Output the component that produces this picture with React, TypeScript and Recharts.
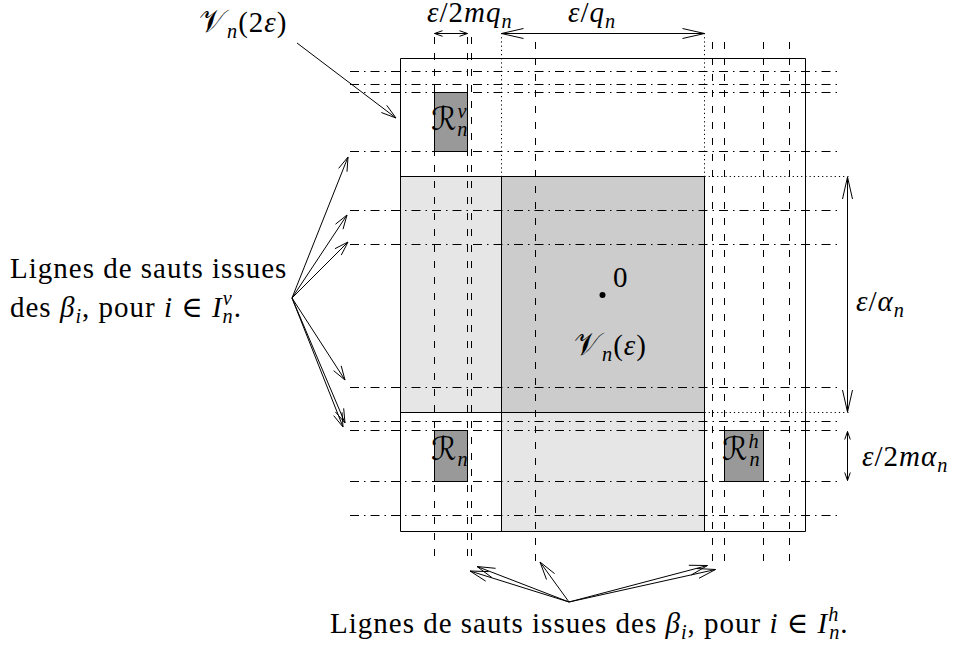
import { ScatterChart, Scatter, XAxis, YAxis, ReferenceArea, ReferenceLine } from "recharts";

const W = 965;
const H = 647;
const SERIF = "'Liberation Serif', 'DejaVu Serif', serif";
const SCRIPT = "'DejaVu Serif', 'DejaVu Sans', serif";

// jump lines coming from the beta_i, i in I_n^v (dash-dot, horizontal)
const hJumpY = [71.5, 84.5, 92.5, 151.5, 210.5, 244.5, 387.5, 421.5, 430.5, 481.5, 515.5];
const hJumpX = [350, 840];

// jump lines coming from the beta_i, i in I_n^h (dashed, vertical)
const vJumpX = [434.5, 467.5, 471.5, 535.5, 712.5, 724.5, 763.5, 789.5];
const vJumpTop = [37, 37, 37, 42, 42, 42, 42, 42];
const vJumpBottom = 564;

// dotted guides
const guides = [
  { x1: 501.5, y1: 33, x2: 501.5, y2: 176.5 },
  { x1: 704.5, y1: 33, x2: 704.5, y2: 176.5 },
  { x1: 704.5, y1: 176.5, x2: 850, y2: 176.5 },
  { x1: 704.5, y1: 412.5, x2: 850, y2: 412.5 },
];

// regions: V_n(2eps) frame, V_n(eps) pieces, R rectangles
const frame = { x1: 400.5, x2: 805.5, y1: 58.5, y2: 531.5 };
const regions = [
  { kind: "light", x1: 400.5, x2: 501.5, y1: 176.5, y2: 412.5 },
  { kind: "mid", x1: 501.5, x2: 704.5, y1: 176.5, y2: 412.5 },
  { kind: "light", x1: 501.5, x2: 704.5, y1: 412.5, y2: 531.5 },
  { kind: "dark", x1: 434.5, x2: 467.5, y1: 92.5, y2: 151.5 },
  { kind: "dark", x1: 434.5, x2: 467.5, y1: 430.5, y2: 481.5 },
  { kind: "dark", x1: 724.5, x2: 763.5, y1: 430.5, y2: 481.5 },
];
const shade: Record<string, string> = { light: "#e6e6e6", mid: "#cccccc", dark: "#999999" };

// dimension arrows (heads on both ends)
const dimArrows = [
  { a: [434.5, 33.5], b: [467.5, 33.5], head: "small" },
  { a: [501.5, 33.5], b: [704.5, 33.5], head: "big" },
  { a: [847.5, 177], b: [847.5, 412], head: "big" },
  { a: [847.5, 431.5], b: [847.5, 480.5], head: "small" },
];

// pointer arrows (head at the tip)
const leftFrom = [292, 298];
const leftTips = [[348, 157], [347, 215], [348, 242], [345, 380], [345, 423], [343, 427]];
const bottomFrom = [569, 602];
const bottomTips = [[477, 566.5], [470, 571], [540, 562], [707.5, 565.5], [715.5, 569.5]];
const vArrow = { a: [297, 43], b: [396, 118] };

const headSize: Record<string, [number, number]> = {
  small: [8, 2.8],
  big: [22, 5],
  left: [14, 4.5],
  bottom: [18, 5],
  v: [15, 4.5],
};

const origin = [{ x: 602.5, y: 295 }];

type Piece = [string, string];
const labelText: Record<string, Piece[]> = {
  v2eps: [["𝒱", "c"], ["n", "sub"], ["(2", "r"], ["ε", "i"], [")", "r"]],
  eps2mq: [["ε", "i"], ["/2", "r"], ["mq", "i"], ["n", "sub"]],
  epsq: [["ε", "i"], ["/", "r"], ["q", "i"], ["n", "sub"]],
  left1: [["Lignes de sauts issues", "r"]],
  left2: [["des ", "r"], ["β", "i"], ["i", "sub"], [", pour ", "r"], ["i", "i"], [" ∈ ", "r"], ["I", "i"], ["v", "sup"], ["n", "stack"], [".", "r"]],
  zero: [["0", "r"]],
  veps: [["𝒱", "c"], ["n", "sub"], ["(", "r"], ["ε", "i"], [")", "r"]],
  epsalpha: [["ε", "i"], ["/", "r"], ["α", "i"], ["n", "sub"]],
  eps2malpha: [["ε", "i"], ["/2", "r"], ["mα", "i"], ["n", "sub"]],
  Rv: [["ℛ", "c"], ["v", "sup"], ["n", "stack"]],
  R: [["ℛ", "c"], ["n", "sub"]],
  Rh: [["ℛ", "c"], ["h", "sup"], ["n", "stack"]],
  bottom: [["Lignes de sauts issues des ", "r"], ["β", "i"], ["i", "sub"], [", pour ", "r"], ["i", "i"], [" ∈ ", "r"], ["I", "i"], ["h", "sup"], ["n", "stack"], [".", "r"]],
};

const labelPoints = [
  { id: "v2eps", x: 199, y: 32 },
  { id: "eps2mq", x: 427, y: 22 },
  { id: "epsq", x: 568, y: 22 },
  { id: "left1", x: 10, y: 278 },
  { id: "left2", x: 10, y: 317 },
  { id: "zero", x: 613, y: 287 },
  { id: "veps", x: 574, y: 355 },
  { id: "epsalpha", x: 856, y: 311 },
  { id: "eps2malpha", x: 862, y: 466 },
  { id: "Rv", x: 431, y: 130 },
  { id: "R", x: 431, y: 460 },
  { id: "Rh", x: 722, y: 460 },
  { id: "bottom", x: 330, y: 633 },
];

type Pt = number[];
type Seg = [Pt, Pt];

function barbs(tip: Pt, from: Pt, size: [number, number]): Seg[] {
  const [len, half] = size;
  const dx = tip[0] - from[0];
  const dy = tip[1] - from[1];
  const d = Math.hypot(dx, dy);
  const ux = dx / d;
  const uy = dy / d;
  const bx = tip[0] - ux * len;
  const by = tip[1] - uy * len;
  return [
    [tip, [bx - uy * half, by + ux * half]],
    [tip, [bx + uy * half, by - ux * half]],
  ];
}

function arrowSegments(): Seg[] {
  const segs: Seg[] = [];
  for (const d of dimArrows) {
    segs.push([d.a, d.b]);
    segs.push(...barbs(d.a, d.b, headSize[d.head]));
    segs.push(...barbs(d.b, d.a, headSize[d.head]));
  }
  for (const t of leftTips) {
    segs.push([leftFrom, t]);
    segs.push(...barbs(t, leftFrom, headSize.left));
  }
  for (const t of bottomTips) {
    segs.push([bottomFrom, t]);
    segs.push(...barbs(t, bottomFrom, headSize.bottom));
  }
  segs.push([vArrow.a, vArrow.b]);
  segs.push(...barbs(vArrow.b, vArrow.a, headSize.v));
  return segs;
}

function MathText({ x, y, pieces, size }: { x: number; y: number; pieces: Piece[]; size: number }) {
  let shift = 0;
  const small = size * 0.7;
  return (
    <text x={x} y={y} fontFamily={SERIF} fontSize={size} fill="#000" letterSpacing={1}>
      {pieces.map(([t, k], i) => {
        let target = 0;
        let fs = size;
        let style = "normal";
        let dx = 0;
        let fam: string | undefined;
        if (k === "i") style = "italic";
        if (k === "c") { fam = SCRIPT; fs = size * 1.1; }
        if (k === "sub") { target = size * 0.22; fs = small; style = "italic"; }
        if (k === "sup") { target = -size * 0.4; fs = small; style = "italic"; }
        if (k === "stack") { target = size * 0.22; fs = small; style = "italic"; dx = -small * 0.5; }
        const dy = target - shift;
        shift = target;
        return (
          <tspan key={i} dx={dx} dy={dy} fontSize={fs} fontStyle={style} fontFamily={fam}>
            {t}
          </tspan>
        );
      })}
    </text>
  );
}

export default function App() {
  const arrows = arrowSegments();
  return (
    <div style={{ position: "absolute", left: 0, top: 0, background: "#fff" }}>
      <ScatterChart width={W} height={H} margin={{ top: 0, right: 0, bottom: 0, left: 0 }}>
        <XAxis type="number" dataKey="x" domain={[0, W]} hide allowDataOverflow />
        <YAxis type="number" dataKey="y" domain={[0, H]} reversed hide allowDataOverflow />

        {regions.map((r, i) => (
          <ReferenceArea key={`r${i}`} x1={r.x1} x2={r.x2} y1={r.y1} y2={r.y2}
            fill={shade[r.kind]} fillOpacity={1} stroke="#000" strokeWidth={1} ifOverflow="visible" />
        ))}
        <ReferenceArea x1={frame.x1} x2={frame.x2} y1={frame.y1} y2={frame.y2}
          fill="none" stroke="#000" strokeWidth={1} ifOverflow="visible" />

        {hJumpY.map((y, i) => (
          <ReferenceLine key={`h${i}`} segment={[{ x: hJumpX[0], y }, { x: hJumpX[1], y }]}
            stroke="#000" strokeWidth={1} strokeDasharray="9 5 1.5 5" ifOverflow="visible" />
        ))}
        {vJumpX.map((x, i) => (
          <ReferenceLine key={`v${i}`} segment={[{ x, y: vJumpTop[i] }, { x, y: vJumpBottom }]}
            stroke="#000" strokeWidth={1} strokeDasharray="7 9" ifOverflow="visible" />
        ))}
        {guides.map((g, i) => (
          <ReferenceLine key={`g${i}`} segment={[{ x: g.x1, y: g.y1 }, { x: g.x2, y: g.y2 }]}
            stroke="#000" strokeWidth={1} strokeDasharray="1.2 3" ifOverflow="visible" />
        ))}
        {arrows.map((s, i) => (
          <ReferenceLine key={`a${i}`} segment={[{ x: s[0][0], y: s[0][1] }, { x: s[1][0], y: s[1][1] }]}
            stroke="#000" strokeWidth={1} ifOverflow="visible" />
        ))}

        <Scatter data={origin} isAnimationActive={false}
          shape={(p: any) => <circle cx={p.cx} cy={p.cy} r={3} fill="#000" />} />
        <Scatter data={labelPoints} isAnimationActive={false}
          shape={(p: any) => (
            <MathText x={p.cx} y={p.cy} pieces={labelText[p.payload?.id ?? p.id]} size={29} />
          )} />
      </ScatterChart>
    </div>
  );
}
